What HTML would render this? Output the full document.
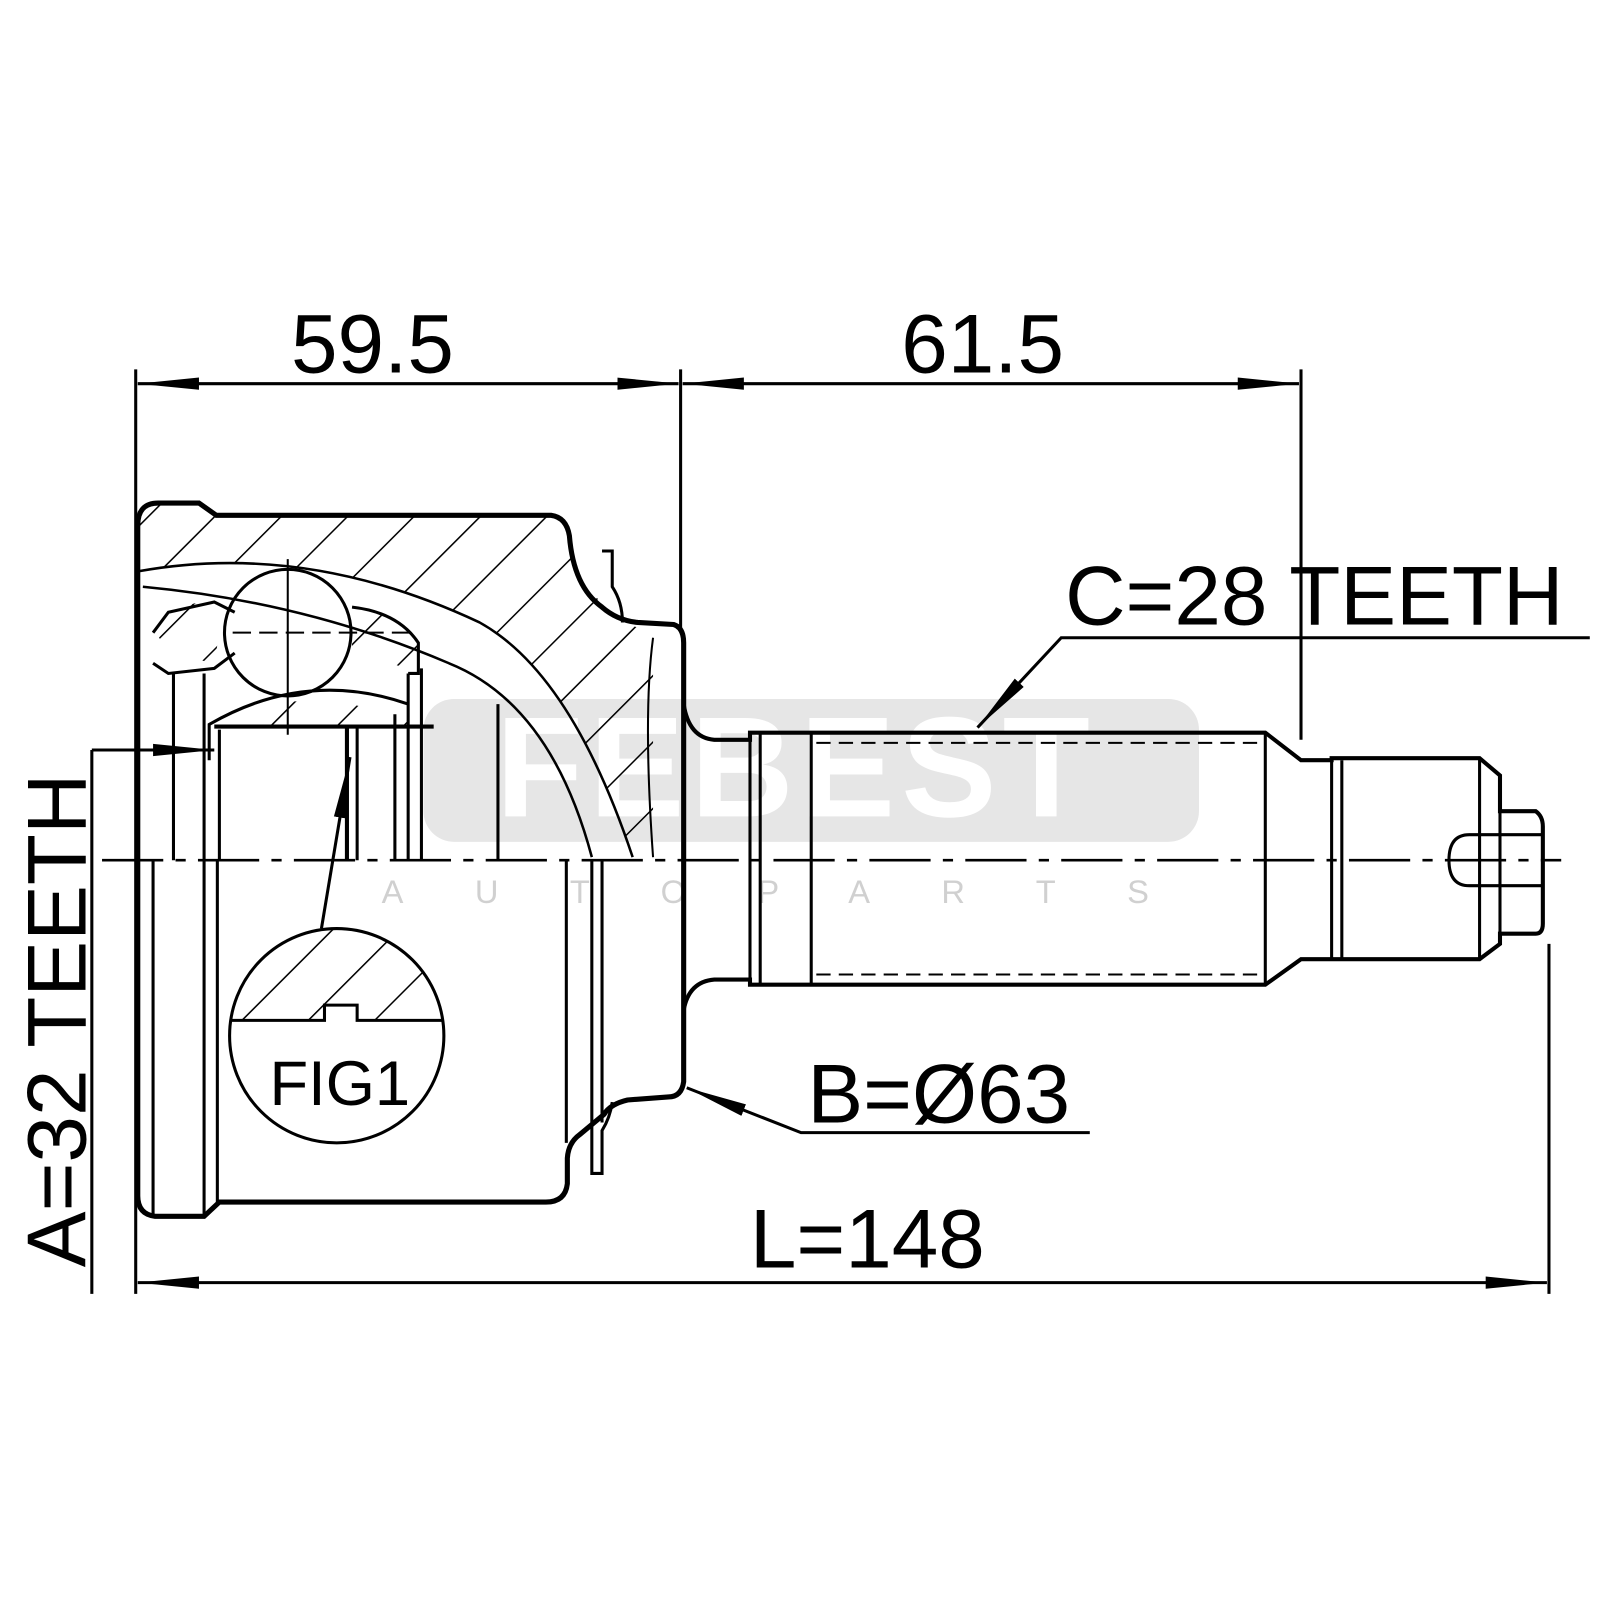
<!DOCTYPE html>
<html><head><meta charset="utf-8"><style>html,body{margin:0;padding:0;background:#fff}svg{display:block}</style></head>
<body>
<svg width="1600" height="1600" viewBox="0 0 1600 1600" xmlns="http://www.w3.org/2000/svg" font-family="Liberation Sans, Arial, sans-serif">
<defs>
<pattern id="h" patternUnits="userSpaceOnUse" width="46" height="46" patternTransform="rotate(45)">
<line x1="0" y1="0" x2="0" y2="46" stroke="#000" stroke-width="3"/>
</pattern>
<marker id="ab" viewBox="0 0 10 10" refX="10" refY="5" markerWidth="60" markerHeight="20" markerUnits="userSpaceOnUse" orient="auto-start-reverse" preserveAspectRatio="none"><path d="M0,2 L10,5 L0,8z" fill="#000"/></marker>
<clipPath id="fc"><circle cx="330" cy="1015" r="105"/></clipPath>
</defs>
<g transform="scale(1.0204)">
<rect x="415" y="685" width="760" height="140" rx="30" fill="#e6e6e6"/>
<text x="780" y="800" font-size="140" font-weight="bold" fill="#fff" text-anchor="middle" letter-spacing="6">FEBEST</text>
<text x="785" y="885" font-size="32" fill="#d0d0d0" text-anchor="middle" letter-spacing="70">AUTOPARTS</text>

<g stroke="#000" fill="none" stroke-width="3">
<line x1="133" y1="362" x2="133" y2="1268"/>
<line x1="667" y1="362" x2="667" y2="620"/>
<line x1="1275" y1="362" x2="1275" y2="725"/>
<line x1="1518" y1="925" x2="1518" y2="1268"/>
<line x1="90" y1="735" x2="90" y2="1268"/>
<line x1="135" y1="376" x2="665" y2="376" marker-start="url(#ab)" marker-end="url(#ab)"/>
<line x1="669" y1="376" x2="1273" y2="376" marker-start="url(#ab)" marker-end="url(#ab)"/>
<line x1="135" y1="1257" x2="1516" y2="1257" marker-start="url(#ab)" marker-end="url(#ab)"/>
<line x1="90" y1="735" x2="210" y2="735" marker-end="url(#ab)"/>
<polyline points="1558,625 1040,625 958,713" marker-end="url(#ab)"/>
<polyline points="1068,1110 785,1110 673,1066" marker-end="url(#ab)"/>
<line x1="315" y1="910" x2="343" y2="742" marker-end="url(#ab)"/>
<line x1="100" y1="843" x2="1530" y2="843" stroke-dasharray="60,12,10,12" stroke-width="2.5"/>

<path d="M135,560 Q300,530 470,610 Q560,660 620,840 L640,840 L640,620 L610,610 Q570,580 555,525 L540,505 L210,505 L195,493 L150,493 Q135,500 135,515 Z" fill="url(#h)" stroke="none"/>
<path d="M200,715 Q300,660 410,712 L210,712Z" fill="url(#h)" stroke="none"/>
<path d="M150,615 Q180,585 220,590 L210,650 L165,640 Z" fill="url(#h)" stroke="none"/>
<path d="M345,595 Q390,600 412,635 L400,655 L345,640 Z" fill="url(#h)" stroke="none"/>
<path d="M135,843 L135,515 Q135,493 155,493 L195,493 L212,505 L540,505 Q555,507 558,525 Q562,575 590,595 Q605,608 625,610 L660,612 Q670,615 670,630 L670,1060 Q668,1075 655,1075 L615,1078 Q598,1082 592,1092 L568,1112 Q557,1120 556,1135 L556,1160 Q554,1178 535,1178 L215,1178 L200,1192 L152,1192 Q135,1190 135,1172 Z" stroke-width="5"/>
<line x1="555" y1="843" x2="555" y2="1120"/>
<line x1="150" y1="843" x2="150" y2="1192"/>
<line x1="200" y1="843" x2="200" y2="1192"/>
<line x1="213" y1="843" x2="213" y2="1178"/>
<path d="M590,540 L600,540 L600,575 Q610,590 610,610"/>
<path d="M580,843 L580,1150 L590,1150 L590,1108 Q598,1095 600,1080"/>
<line x1="590" y1="843" x2="590" y2="1100"/>
<path d="M640,625 Q630,700 640,840" stroke-width="2"/>
<path d="M135,560 Q300,530 470,610 Q560,660 620,840" stroke-width="2.5"/>
<path d="M140,575 Q300,590 440,650 Q540,690 580,840" stroke-width="2.5"/>
<circle cx="282" cy="620" r="62"/>
<line x1="282" y1="548" x2="282" y2="720" stroke-width="2"/>
<line x1="228" y1="620" x2="405" y2="620" stroke-dasharray="18,8" stroke-width="2"/>
<path d="M150,620 L165,600 L210,590 L230,600"/>
<path d="M150,650 L165,660 L210,655 L230,640"/>
<path d="M345,595 Q390,600 410,630 L410,660 L400,660"/>
<path d="M205,745 L205,710 Q300,655 400,690"/>
<line x1="210" y1="712" x2="425" y2="712" stroke-width="4"/>
<line x1="170" y1="660" x2="170" y2="843"/>
<line x1="200" y1="660" x2="200" y2="843"/>
<line x1="215" y1="715" x2="215" y2="843"/>
<line x1="340" y1="712" x2="340" y2="843" stroke-width="4"/>
<line x1="350" y1="712" x2="350" y2="843"/>
<line x1="387" y1="700" x2="387" y2="843"/>
<line x1="400" y1="660" x2="400" y2="843"/>
<line x1="413" y1="655" x2="413" y2="843"/>
<line x1="488" y1="690" x2="488" y2="843"/>

<path d="M670,690 Q675,723 700,725 L735,725 L735,718 L1240,718 L1275,745 L1305,745 L1305,743 L1450,743 L1470,760 L1470,795 L1505,795 Q1512,800 1512,810 L1512,905 Q1512,915 1505,915 L1470,915 L1470,925 L1450,940 L1305,940 L1275,940 L1240,965 L735,965 L735,960 L700,960 Q675,962 670,990" stroke-width="4"/>
<line x1="735" y1="718" x2="735" y2="965"/>
<line x1="745" y1="718" x2="745" y2="965"/>
<line x1="795" y1="718" x2="795" y2="965"/>
<line x1="1240" y1="718" x2="1240" y2="965"/>
<line x1="800" y1="728" x2="1238" y2="728" stroke-dasharray="14,8" stroke-width="2"/>
<line x1="800" y1="955" x2="1238" y2="955" stroke-dasharray="14,8" stroke-width="2"/>
<line x1="1305" y1="745" x2="1305" y2="940"/>
<line x1="1315" y1="745" x2="1315" y2="940"/>
<line x1="1450" y1="743" x2="1450" y2="940"/>
<line x1="1470" y1="795" x2="1470" y2="915"/>
<path d="M1512,818 L1440,818 Q1420,818 1420,843 Q1420,868 1440,868 L1512,868"/>

<path d="M220,1000 L318,1000 L318,985 L350,985 L350,1000 L440,1000 L440,900 L220,900Z" fill="url(#h)" stroke="none" clip-path="url(#fc)"/>
<path d="M220,1000 L318,1000 L318,985 L350,985 L350,1000 L440,1000" clip-path="url(#fc)"/>
<circle cx="330" cy="1015" r="105"/>
</g>

<g fill="#000" font-size="82">
<text x="365" y="365" text-anchor="middle">59.5</text>
<text x="963" y="365" text-anchor="middle">61.5</text>
<text x="1288" y="612" text-anchor="middle">C=28 TEETH</text>
<text x="920" y="1100" text-anchor="middle">B=Ø63</text>
<text x="850" y="1242" text-anchor="middle">L=148</text>
<text transform="translate(84,1000) rotate(-90)" text-anchor="middle">A=32 TEETH</text>
<text x="333" y="1083" text-anchor="middle" font-size="62">FIG1</text>
</g>
</g>
</svg>
</body></html>
